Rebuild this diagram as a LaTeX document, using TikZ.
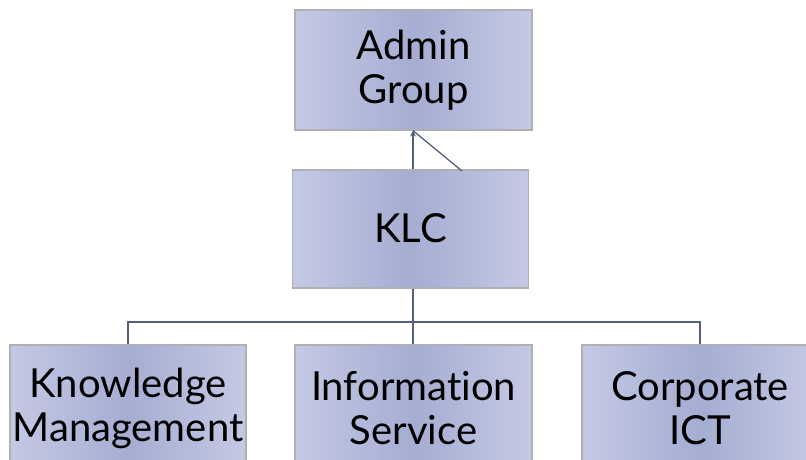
\documentclass[tikz,border=0pt]{standalone}
\usepackage{fontspec}
\setmainfont{Lato}[Ligatures=NoCommon]
\usetikzlibrary{arrows.meta}
\definecolor{boxlight}{RGB}{196,201,228}
\definecolor{boxdark}{RGB}{165,173,210}
\definecolor{linec}{RGB}{84,94,126}
\definecolor{edgec}{RGB}{175,175,182}
\tikzset{
  box/.style={rectangle, draw=edgec, line width=1.2pt, shading angle=60,
    left color=boxlight, right color=boxlight, middle color=boxdark,
    inner sep=0pt},
  lbl/.style={align=center, font=\fontsize{40}{44}\selectfont, text=black, inner sep=0pt},
  conn/.style={draw=linec, line width=1.3pt},
}
\begin{document}
\begin{tikzpicture}[x=1pt,y=-1pt]
\clip (0,0) rectangle (806,459);
\useasboundingbox (0,0) rectangle (806,459);
\fill[white] (0,0) rectangle (806,459);
% boxes
\node[box, minimum width=237pt, minimum height=120pt] (admin) at (413.5,70) {};
\node[box, minimum width=236pt, minimum height=118pt] (klc) at (410.5,229) {};
\node[box, minimum width=236pt, minimum height=130pt] (km) at (128,410) {};
\node[box, minimum width=237pt, minimum height=130pt] (is) at (413.5,410) {};
\node[box, minimum width=236pt, minimum height=130pt] (ci) at (700,410) {};
% labels
\node[lbl] (admint) at (413.5,70) {Admin\\Group};
\node[lbl] (klct) at (410.5,228) {KLC};
\node[lbl] (kmt) at (128,408) {Knowledge\\Management};
\node[lbl] (ist) at (413.5,408) {Information\\Service};
\node[lbl] (cit) at (700,408) {Corporate\\ICT};
% connectors
\coordinate (bus) at (413,322);
\coordinate (diag) at (462,171);
\draw[conn, -{Stealth[length=6pt,width=6pt]}] (klc.north -| bus) -- (admin.south -| bus);
\draw[conn] (diag) -- (admin.south -| bus);
\draw[conn] (klc.south -| bus) -- (is.north -| bus);
\draw[conn] (km.north) |- (bus) -| (ci.north);
\end{tikzpicture}
\end{document}
